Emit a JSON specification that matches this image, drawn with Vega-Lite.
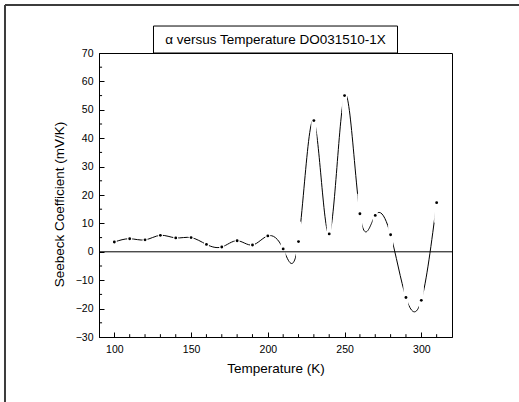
{
  "$schema": "https://vega.github.io/schema/vega-lite/v6.json",
  "autosize": "none",
  "width": 353,
  "height": 284,
  "padding": {"left": 99, "top": 53, "right": 67, "bottom": 65},
  "background": "white",
  "config": {
    "font": "Liberation Sans",
    "view": {"stroke": "#000000", "strokeWidth": 1},
    "axis": {
      "grid": false,
      "domainColor": "#000000",
      "domainWidth": 1,
      "tickColor": "#000000",
      "tickWidth": 1,
      "labelFont": "Liberation Sans",
      "labelFontSize": 10.5,
      "labelColor": "#000000",
      "titleFont": "Liberation Sans",
      "titleFontSize": 13.5,
      "titleFontWeight": "normal",
      "titleColor": "#000000"
    }
  },
  "datasets": {
    "xminor": [
      {"v": 110}, {"v": 120}, {"v": 130}, {"v": 140},
      {"v": 160}, {"v": 170}, {"v": 180}, {"v": 190},
      {"v": 210}, {"v": 220}, {"v": 230}, {"v": 240},
      {"v": 260}, {"v": 270}, {"v": 280}, {"v": 290},
      {"v": 310}
    ],
    "yminor": [
      {"v": -25}, {"v": -15}, {"v": -5}, {"v": 5}, {"v": 15},
      {"v": 25}, {"v": 35}, {"v": 45}, {"v": 55}, {"v": 65}
    ]
  },
  "data": {
    "values": [
      {"T": 100, "S": 3.45},
      {"T": 110, "S": 4.6},
      {"T": 120, "S": 4.2},
      {"T": 130, "S": 5.8},
      {"T": 140, "S": 4.9},
      {"T": 150, "S": 5.0},
      {"T": 160, "S": 2.6},
      {"T": 170, "S": 1.7},
      {"T": 180, "S": 3.9},
      {"T": 190, "S": 2.4},
      {"T": 200, "S": 5.6},
      {"T": 210, "S": 1.0},
      {"T": 220, "S": 3.6},
      {"T": 230, "S": 46.2},
      {"T": 240, "S": 6.3},
      {"T": 250, "S": 55.0},
      {"T": 260, "S": 13.4},
      {"T": 270, "S": 12.8},
      {"T": 280, "S": 6.0},
      {"T": 290, "S": -16.1},
      {"T": 300, "S": -17.1},
      {"T": 310, "S": 17.3}
    ]
  },
  "layer": [
    {
      "mark": {"type": "line", "interpolate": "natural", "color": "#000000", "strokeWidth": 1},
      "encoding": {
        "x": {
          "field": "T", "type": "quantitative",
          "scale": {"domain": [90, 320], "nice": false, "zero": false},
          "axis": {
            "title": "Temperature (K)",
            "values": [100, 150, 200, 250, 300],
            "tickCount": 100,
            "labelOverlap": false,
            "tickSize": -5,
            "labelPadding": 12,
            "titleBaseline": "middle",
            "titleY": 31
          }
        },
        "y": {
          "field": "S", "type": "quantitative",
          "scale": {"domain": [-30, 70], "nice": false, "zero": false},
          "axis": {
            "title": "Seebeck Coefficient (mV/K)",
            "values": [-30, -20, -10, 0, 10, 20, 30, 40, 50, 60, 70],
            "tickCount": 100,
            "labelOverlap": false,
            "labelFlush": false,
            "labelBaseline": "middle",
            "tickSize": -5,
            "labelPadding": 11,
            "titleBaseline": "middle",
            "titleX": -40,
            "titleY": 151
          }
        }
      }
    },
    {
      "data": {"values": [{}]},
      "mark": {"type": "rule", "color": "#3c3c3c", "strokeWidth": 2},
      "encoding": {
        "x": {"datum": 28.75, "type": "quantitative"},
        "y": {"datum": -60, "type": "quantitative"},
        "y2": {"datum": 86.9}
      }
    },
    {
      "data": {"values": [{}]},
      "mark": {"type": "rule", "color": "#3c3c3c", "strokeWidth": 2},
      "encoding": {
        "x": {"datum": 28.75, "type": "quantitative"},
        "x2": {"datum": 400},
        "y": {"datum": 86.9, "type": "quantitative"}
      }
    },
    {
      "data": {"values": [{}]},
      "mark": {"type": "rect", "fill": "white", "stroke": "#000000", "strokeWidth": 1},
      "encoding": {
        "x": {"datum": 125.5, "type": "quantitative"},
        "x2": {"datum": 284.5},
        "y": {"datum": 79.5, "type": "quantitative"},
        "y2": {"datum": 70}
      }
    },
    {
      "data": {"values": [{}]},
      "mark": {"type": "text", "font": "Liberation Sans", "fontSize": 13.5, "color": "#000000", "align": "center", "baseline": "middle"},
      "encoding": {
        "x": {"datum": 205, "type": "quantitative"},
        "y": {"datum": 74.7, "type": "quantitative"},
        "text": {"value": "α versus Temperature DO031510-1X"}
      }
    },
    {
      "data": {"name": "xminor"},
      "mark": {"type": "rule", "color": "#000000", "strokeWidth": 1},
      "encoding": {
        "x": {"field": "v", "type": "quantitative"},
        "y": {"datum": -30, "type": "quantitative"},
        "y2": {"datum": -29}
      }
    },
    {
      "data": {"name": "yminor"},
      "mark": {"type": "rule", "color": "#000000", "strokeWidth": 1},
      "encoding": {
        "y": {"field": "v", "type": "quantitative"},
        "x": {"datum": 90, "type": "quantitative"},
        "x2": {"datum": 92}
      }
    },
    {
      "mark": {"type": "tick", "orient": "vertical", "color": "white", "thickness": 5, "size": 40, "opacity": 1},
      "encoding": {
        "x": {"field": "T", "type": "quantitative"},
        "y": {"field": "S", "type": "quantitative"}
      }
    },
    {
      "data": {"values": [{}]},
      "mark": {"type": "rule", "color": "#000000", "strokeWidth": 1},
      "encoding": {
        "y": {"datum": 0, "type": "quantitative"}
      }
    },
    {
      "mark": {"type": "point", "shape": "circle", "filled": true, "color": "#000000", "size": 8, "opacity": 1},
      "encoding": {
        "x": {"field": "T", "type": "quantitative"},
        "y": {"field": "S", "type": "quantitative"}
      }
    }
  ]
}
